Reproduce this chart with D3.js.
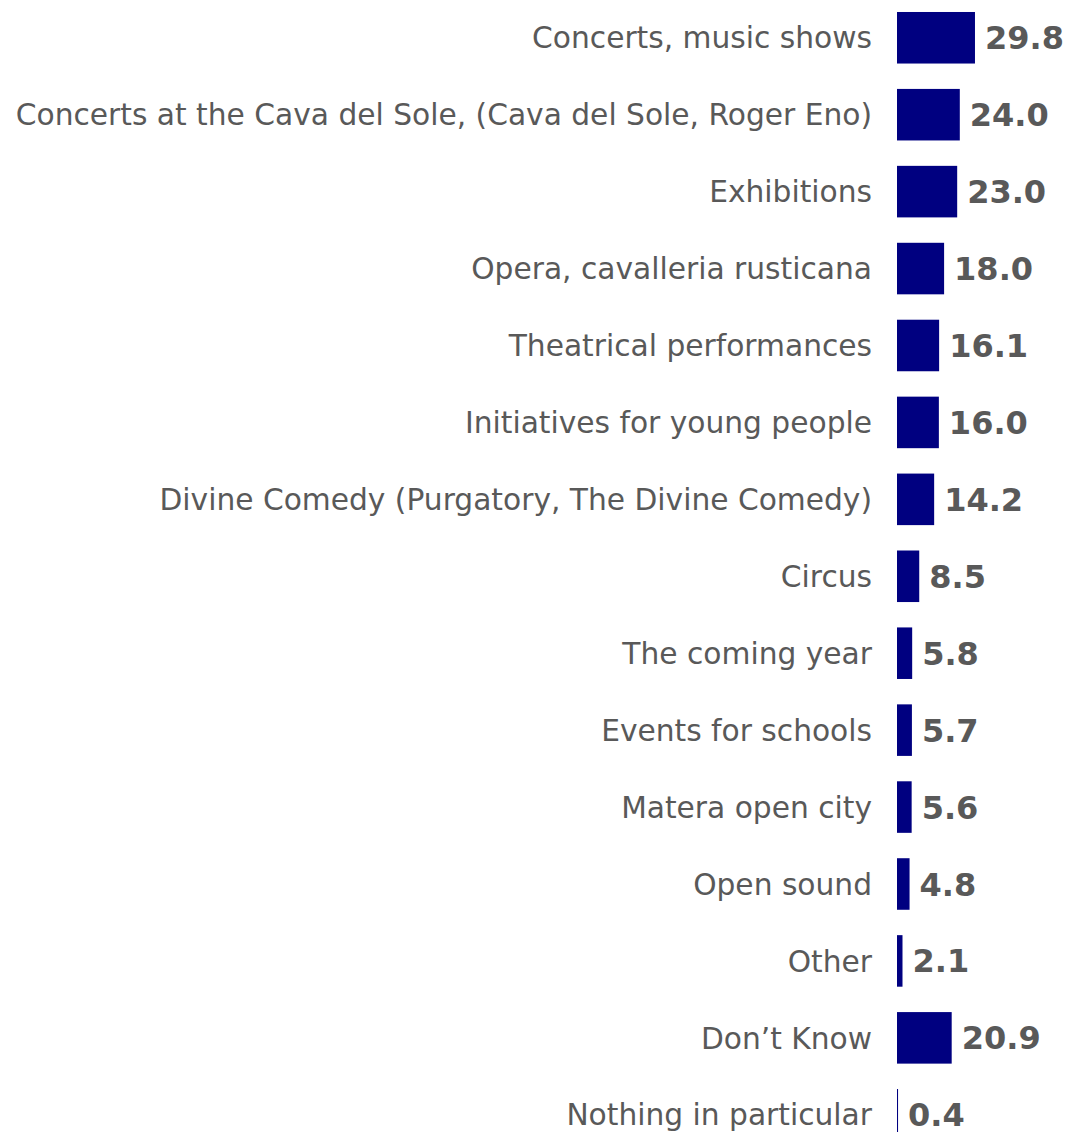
<!DOCTYPE html>
<html lang="en">
<head>
<meta charset="utf-8">
<title>Events</title>
<script src="https://d3js.org/d3.v7.min.js"></script>
<style>
  body { margin: 0; background: #fff; }
  svg { display: block; }
</style>
</head>
<body>
<div id="chart"></div>
<script>
// categories and values, top to bottom
const categories = [
  "Concerts, music shows",
  "Concerts at the Cava del Sole, (Cava del Sole, Roger Eno)",
  "Exhibitions",
  "Opera, cavalleria rusticana",
  "Theatrical performances",
  "Initiatives for young people",
  "Divine Comedy (Purgatory, The Divine Comedy)",
  "Circus",
  "The coming year",
  "Events for schools",
  "Matera open city",
  "Open sound",
  "Other",
  "Don\u2019t Know",
  "Nothing in particular"
];
const values = [29.8, 24.0, 23.0, 18.0, 16.1, 16.0, 14.2, 8.5, 5.8, 5.7, 5.6, 4.8, 2.1, 20.9, 0.4];

const width = 1068, height = 1132;
const x0 = 897;  // where bars start
const step = 76.93;

const data = categories.map((c, i) => ({ cat: c, val: values[i] }));

const svg = d3.select("#chart").append("svg")
  .attr("width", width)
  .attr("height", height);

const x = d3.scaleLinear().domain([0, 30]).range([0, 78.5]);
const y = d3.scaleBand()
  .domain(categories)
  .range([-0.7, -0.7 + step * categories.length])
  .paddingInner(0.33)
  .paddingOuter(0.165);

const g = svg.append("g").attr("transform", "translate(" + x0 + ",0)");

g.selectAll("rect.bar")
  .data(data)
  .enter()
  .append("rect")
  .attr("class", "bar")
  .attr("x", 0)
  .attr("y", d => y(d.cat))
  .attr("width", d => Math.max(x(d.val), 1))
  .attr("height", y.bandwidth())
  .attr("fill", "#000080");

// category labels
g.selectAll("text.cat")
  .data(data)
  .enter()
  .append("text")
  .attr("class", "cat")
  .attr("x", -25)
  .attr("y", d => y(d.cat) + y.bandwidth() / 2)
  .attr("dy", "0.36em")
  .attr("text-anchor", "end")
  .style("font-family", "'DejaVu Sans', Verdana, sans-serif")
  .style("font-size", "29.7px")
  .style("fill", "#595959")
  .text(d => d.cat);

// value labels
g.selectAll("text.val")
  .data(data)
  .enter()
  .append("text")
  .attr("class", "val")
  .attr("x", d => x(d.val) + 10)
  .attr("y", d => y(d.cat) + y.bandwidth() / 2)
  .attr("dy", "0.36em")
  .style("font-family", "'DejaVu Sans', Verdana, sans-serif")
  .style("font-size", "32px")
  .style("font-weight", "bold")
  .style("fill", "#595959")
  .text(d => d.val.toFixed(1));
</script>
</body>
</html>
